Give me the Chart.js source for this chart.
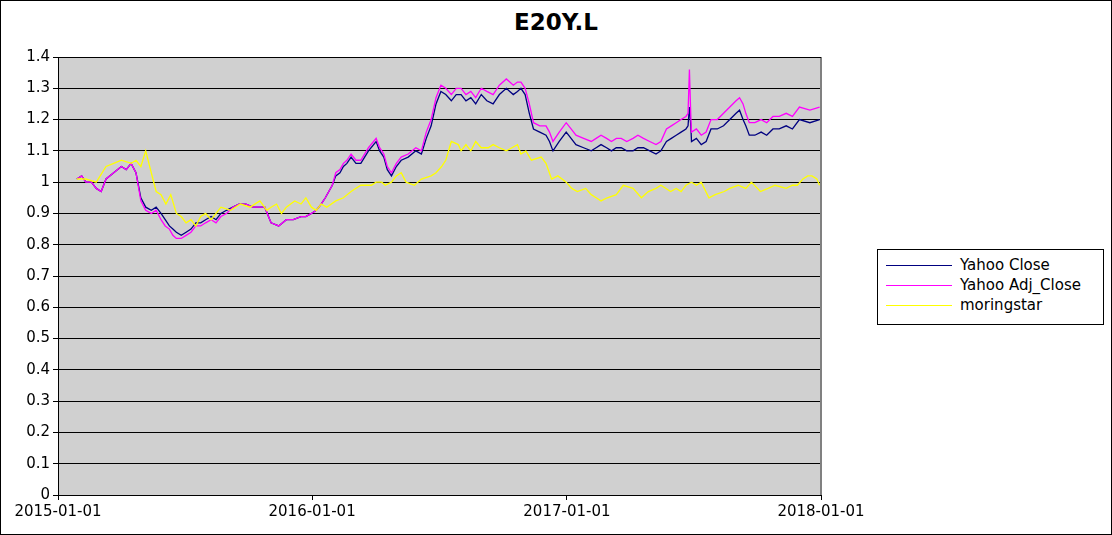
<!DOCTYPE html>
<html><head><meta charset="utf-8">
<script src="https://cdn.jsdelivr.net/npm/chart.js@4"></script>
<style>
body{margin:0;background:#fff;font-family:"DejaVu Sans",sans-serif;}
#wrap{position:relative;width:1110px;height:533px;border:1px solid #000;overflow:hidden;}
#title{position:absolute;top:8px;left:0;width:1110px;text-align:center;font-weight:bold;font-size:23px;}
#cw{position:absolute;left:0;top:0;width:870px;height:533px;}
#legend{position:absolute;left:876px;top:248px;width:225px;height:74px;border:1px solid #000;font-size:15px;}
.li{position:absolute;left:8px;height:18px;}
.li span.l{display:inline-block;width:66px;height:1px;vertical-align:middle;margin-right:8px;}
</style></head><body>
<div id="wrap">
<div id="title">E20Y.L</div>
<div id="cw"><canvas id="c"></canvas></div>
<div id="legend">
<div class="li" style="top:6px"><span class="l" style="background:#000080"></span>Yahoo Close</div>
<div class="li" style="top:26px"><span class="l" style="background:#ff00ff"></span>Yahoo Adj_Close</div>
<div class="li" style="top:46px"><span class="l" style="background:#ffff00"></span>moringstar</div>
</div>
</div>
<script>
const tickDays=[0,365,731,1096];
const tickLabels=["2015-01-01","2016-01-01","2017-01-01","2018-01-01"];
const days=[27,34,40,48,55,62,69,80,91,98,105,112,119,126,134,141,148,154,160,165,170,177,184,191,198,205,212,220,227,234,242,251,260,270,280,289,297,306,317,328,338,349,356,364,371,378,384,389,394,399,405,410,415,421,428,435,446,457,462,468,473,479,486,493,503,514,522,529,536,543,550,557,565,572,579,586,593,600,608,616,625,634,644,649,654,660,665,671,677,683,692,701,706,711,720,730,737,744,755,766,773,780,788,795,802,809,817,826,833,841,850,859,866,874,881,888,895,902,905,907,909,910,917,924,931,938,947,956,965,974,979,984,988,993,1001,1010,1018,1027,1036,1046,1055,1065,1080,1094];
const closeVals=[1.01,1.02,1.00,1.00,0.98,0.97,1.01,1.03,1.05,1.04,1.06,1.03,0.95,0.92,0.91,0.92,0.90,0.88,0.86,0.85,0.84,0.83,0.84,0.85,0.87,0.87,0.88,0.89,0.88,0.90,0.91,0.92,0.93,0.93,0.92,0.92,0.92,0.87,0.86,0.88,0.88,0.89,0.89,0.90,0.91,0.93,0.95,0.97,0.99,1.02,1.03,1.05,1.06,1.08,1.06,1.06,1.10,1.13,1.10,1.08,1.04,1.02,1.05,1.07,1.08,1.10,1.09,1.14,1.18,1.25,1.29,1.28,1.26,1.28,1.28,1.26,1.27,1.25,1.28,1.26,1.25,1.28,1.30,1.29,1.28,1.29,1.30,1.28,1.22,1.17,1.16,1.15,1.13,1.10,1.13,1.16,1.14,1.12,1.11,1.10,1.11,1.12,1.11,1.10,1.11,1.11,1.10,1.10,1.11,1.11,1.10,1.09,1.10,1.13,1.14,1.15,1.16,1.17,1.18,1.24,1.18,1.13,1.14,1.12,1.13,1.17,1.17,1.18,1.20,1.22,1.23,1.20,1.18,1.15,1.15,1.16,1.15,1.17,1.17,1.18,1.17,1.20,1.19,1.20];
const adjVals=[1.01,1.02,1.00,1.00,0.98,0.97,1.01,1.03,1.05,1.04,1.06,1.03,0.94,0.91,0.90,0.91,0.88,0.86,0.85,0.83,0.82,0.82,0.83,0.84,0.86,0.86,0.87,0.88,0.87,0.89,0.90,0.92,0.93,0.93,0.92,0.92,0.92,0.87,0.86,0.88,0.88,0.89,0.89,0.90,0.91,0.93,0.95,0.97,0.99,1.03,1.04,1.06,1.07,1.09,1.07,1.07,1.11,1.14,1.11,1.09,1.05,1.03,1.06,1.08,1.09,1.11,1.10,1.16,1.20,1.27,1.31,1.30,1.28,1.30,1.30,1.28,1.29,1.27,1.30,1.29,1.28,1.31,1.33,1.32,1.31,1.32,1.32,1.30,1.25,1.19,1.18,1.18,1.16,1.13,1.16,1.19,1.17,1.15,1.14,1.13,1.14,1.15,1.14,1.13,1.14,1.14,1.13,1.14,1.15,1.14,1.13,1.12,1.13,1.17,1.18,1.19,1.20,1.21,1.22,1.36,1.21,1.16,1.17,1.15,1.16,1.20,1.20,1.22,1.24,1.26,1.27,1.25,1.22,1.19,1.19,1.20,1.19,1.21,1.21,1.22,1.21,1.24,1.23,1.24];
const msDays=[27,40,55,69,80,91,105,112,119,126,134,141,148,155,162,170,177,184,191,198,205,212,220,234,248,262,276,290,300,306,314,321,328,340,349,356,364,371,378,386,399,410,421,435,450,457,465,470,479,486,493,500,512,522,536,543,551,557,565,575,579,586,593,600,608,618,625,634,644,652,660,665,672,680,694,701,709,718,730,738,746,758,766,773,780,789,802,812,826,838,848,859,866,880,888,895,902,910,917,924,935,944,957,965,977,988,996,1009,1020,1030,1046,1055,1062,1070,1077,1083,1090,1094];
const msVals=[1.01,1.01,1.00,1.05,1.06,1.07,1.06,1.07,1.05,1.10,1.03,0.97,0.96,0.93,0.96,0.90,0.89,0.87,0.88,0.86,0.89,0.90,0.88,0.92,0.91,0.93,0.92,0.94,0.91,0.92,0.93,0.90,0.92,0.94,0.93,0.95,0.92,0.91,0.93,0.92,0.94,0.95,0.97,0.99,0.99,1.00,1.00,0.99,1.00,1.02,1.03,1.00,0.99,1.01,1.02,1.03,1.05,1.07,1.13,1.12,1.10,1.12,1.10,1.13,1.11,1.11,1.12,1.11,1.10,1.11,1.12,1.09,1.10,1.07,1.08,1.06,1.01,1.02,1.00,0.98,0.97,0.98,0.96,0.95,0.94,0.95,0.96,0.99,0.98,0.95,0.97,0.98,0.99,0.97,0.98,0.97,0.99,1.00,0.99,1.00,0.95,0.96,0.97,0.98,0.99,0.98,1.00,0.97,0.98,0.99,0.98,0.99,0.99,1.01,1.02,1.02,1.01,0.99];
const toXY=(d,v)=>d.map((x,i)=>({x:x,y:v[i]}));
const bg={id:'bg',beforeDraw(c){const a=c.chartArea,g=c.ctx;g.save();g.fillStyle='#d0d0d0';g.fillRect(a.left,a.top,a.right-a.left,a.bottom-a.top);g.restore();},
afterDraw(c){const a=c.chartArea,g=c.ctx;g.save();g.strokeStyle='#808080';g.lineWidth=2;g.beginPath();g.moveTo(a.right,a.top);g.lineTo(a.right,a.bottom);g.stroke();g.strokeStyle='#000';g.lineWidth=1;g.beginPath();g.moveTo(a.left,a.top+0.5);g.lineTo(a.right,a.top+0.5);g.stroke();g.restore();}};
const ds=(d,v,col)=>({data:toXY(d,v),borderColor:col,borderWidth:1.3,pointRadius:0,tension:0,fill:false});
new Chart(document.getElementById('c'),{type:'line',
data:{datasets:[ds(msDays,msVals,'#ffff00'),ds(days,adjVals,'#ff00ff'),ds(days,closeVals,'#000080')]},
plugins:[bg],
options:{responsive:true,maintainAspectRatio:false,animation:false,
layout:{padding:{top:56,right:50,left:0,bottom:0}},
plugins:{legend:{display:false},title:{display:false},tooltip:{enabled:false}},
scales:{
x:{type:'linear',min:0,max:1096,afterBuildTicks(s){s.ticks=tickDays.map(v=>({value:v}));},
afterFit(s){s.height=39;},
ticks:{autoSkip:false,maxRotation:0,color:'#000',font:{family:'DejaVu Sans',size:15},callback:(v)=>tickLabels[tickDays.indexOf(v)]||''},
grid:{display:true,drawOnChartArea:false,drawTicks:true,tickLength:5,color:'#000'},border:{color:'#000'}},
y:{min:0,max:1.4,afterFit(s){s.width=57;},
afterBuildTicks(s){s.ticks=[0,1,2,3,4,5,6,7,8,9,10,11,12,13,14].map(i=>({value:i/10}));},
ticks:{color:'#000',font:{family:'DejaVu Sans',size:15},callback:v=>String(Math.round(v*10)/10)},
grid:{color:'#000',tickLength:5},border:{color:'#000'}}
}}});
</script></body></html>
